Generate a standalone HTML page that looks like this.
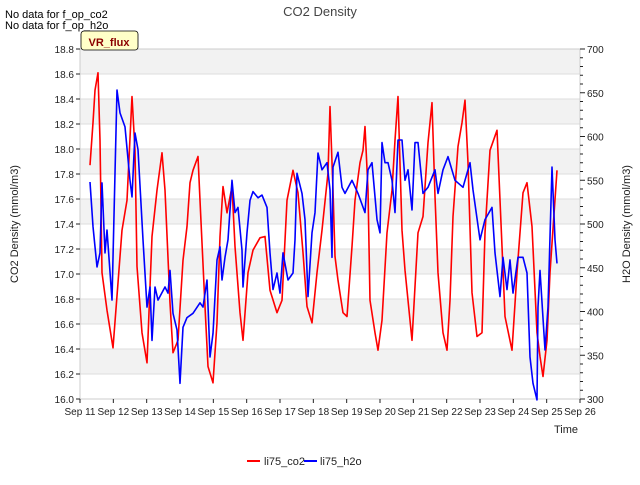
<!DOCTYPE html>
<html><head><meta charset="utf-8"><style>
body{margin:0;background:#fff;font-family:"Liberation Sans",sans-serif}
svg text{font-family:"Liberation Sans",sans-serif}
</style></head><body>
<svg id="c" width="640" height="480" xmlns="http://www.w3.org/2000/svg">
<text x="320" y="16" text-anchor="middle" font-size="13" fill="#444">CO2 Density</text>
<text x="5" y="18" font-size="11" fill="#000">No data for f_op_co2</text>
<text x="5" y="29" font-size="11" fill="#000">No data for f_op_h2o</text>
<g id="bands"></g>
<g id="grid"></g>
<rect x="80" y="49" width="500" height="350" fill="none" stroke="#ccc"/>
<g id="axes"></g>
<g id="series"></g>
<rect x="81" y="31" width="57" height="19" rx="3" fill="#ffffc8" stroke="#000" stroke-width="0.8"/>
<text x="109" y="46" text-anchor="middle" font-size="11" font-weight="bold" fill="#8b0000">VR_flux</text>
<text transform="translate(18,224) rotate(-90)" text-anchor="middle" font-size="11" fill="#222">CO2 Density (mmol/m3)</text>
<text transform="translate(630,224) rotate(-90)" text-anchor="middle" font-size="11" fill="#222">H2O Density (mmol/m3)</text>
<text x="578" y="433" text-anchor="end" font-size="11" fill="#222">Time</text>
<g>
<line x1="247" y1="461" x2="260" y2="461" stroke="#f00" stroke-width="2"/>
<text x="264" y="465" font-size="11" fill="#222">li75_co2</text>
<line x1="304" y1="461" x2="317" y2="461" stroke="#00f" stroke-width="2"/>
<text x="320" y="465" font-size="11" fill="#222">li75_h2o</text>
</g>
</svg>
<script>
const xTickLabels=["Sep 11","Sep 12","Sep 13","Sep 14","Sep 15","Sep 16","Sep 17","Sep 18","Sep 19","Sep 20","Sep 21","Sep 22","Sep 23","Sep 24","Sep 25","Sep 26"];
const leftTicks=[16.0,16.2,16.4,16.6,16.8,17.0,17.2,17.4,17.6,17.8,18.0,18.2,18.4,18.6,18.8];
const rightTicks=[300,350,400,450,500,550,600,650,700];
const co2Days=[0.30,0.39,0.45,0.54,0.60,0.66,0.81,0.99,1.14,1.26,1.41,1.56,1.65,1.71,1.86,2.01,2.16,2.31,2.46,2.55,2.70,2.79,2.94,3.09,3.21,3.30,3.39,3.54,3.60,3.75,3.84,3.99,4.11,4.20,4.29,4.41,4.56,4.65,4.80,4.89,5.04,5.19,5.40,5.55,5.70,5.91,6.06,6.21,6.39,6.54,6.69,6.81,6.96,7.11,7.26,7.44,7.50,7.59,7.65,7.74,7.89,8.01,8.16,8.25,8.40,8.49,8.55,8.64,8.70,8.85,8.94,9.06,9.21,9.36,9.45,9.54,9.66,9.75,9.96,10.14,10.29,10.44,10.56,10.65,10.74,10.89,11.01,11.10,11.19,11.34,11.46,11.55,11.64,11.76,11.91,12.06,12.15,12.30,12.51,12.66,12.75,12.96,13.11,13.29,13.41,13.56,13.71,13.80,13.89,14.01,14.10,14.31];
const co2Values=[17.87,18.21,18.47,18.61,18.07,17.01,16.71,16.41,16.93,17.35,17.59,18.42,17.99,17.06,16.53,16.29,17.30,17.67,17.97,17.67,16.77,16.37,16.47,17.11,17.38,17.73,17.83,17.94,17.59,16.74,16.26,16.13,16.61,17.30,17.70,17.49,17.70,17.22,16.69,16.47,17.01,17.19,17.29,17.30,16.87,16.69,16.79,17.59,17.83,17.65,17.17,16.74,16.61,17.01,17.35,17.81,18.34,17.67,17.14,16.95,16.69,16.66,17.22,17.59,17.89,17.99,18.18,17.67,16.79,16.53,16.39,16.63,17.33,17.67,18.07,18.42,17.35,17.03,16.47,17.33,17.46,18.05,18.37,17.62,17.01,16.53,16.39,16.79,17.46,18.02,18.21,18.39,17.89,16.85,16.50,16.53,17.33,17.99,18.15,17.22,16.66,16.39,17.01,17.65,17.73,17.38,16.53,16.34,16.18,16.47,17.01,17.83];
const h2oDays=[0.30,0.39,0.51,0.60,0.66,0.75,0.81,0.96,1.05,1.11,1.20,1.35,1.50,1.56,1.65,1.74,1.89,2.01,2.10,2.16,2.25,2.34,2.55,2.64,2.70,2.79,2.91,3.00,3.09,3.21,3.39,3.60,3.69,3.81,3.90,3.99,4.11,4.20,4.26,4.35,4.44,4.56,4.65,4.74,4.86,4.89,5.01,5.10,5.19,5.34,5.46,5.61,5.70,5.79,5.91,6.00,6.09,6.24,6.39,6.45,6.51,6.66,6.75,6.84,6.96,7.05,7.14,7.26,7.41,7.50,7.56,7.59,7.74,7.86,7.95,8.16,8.34,8.55,8.64,8.76,8.91,9.00,9.06,9.15,9.24,9.36,9.45,9.54,9.66,9.75,9.84,9.96,10.05,10.14,10.29,10.44,10.65,10.74,10.89,11.04,11.25,11.49,11.70,11.79,12.00,12.15,12.36,12.45,12.60,12.69,12.81,12.90,12.99,13.14,13.29,13.41,13.50,13.59,13.71,13.74,13.80,13.95,14.04,14.16,14.25,14.31];
const h2oValues=[548,497,451,467,547,467,493,413,558,653,627,611,550,531,604,585,482,405,428,367,428,413,428,421,447,398,379,318,382,393,398,410,405,436,348,375,459,474,436,462,482,550,513,519,470,428,490,527,537,530,533,519,467,425,444,421,467,436,444,482,558,535,505,417,490,513,581,562,570,539,462,565,582,542,535,550,535,513,562,570,505,490,593,570,570,550,513,596,596,550,562,516,593,593,535,542,562,535,562,577,550,542,570,539,482,505,519,467,417,462,425,459,421,462,462,444,348,318,299,405,447,356,405,565,482,455];

const NS="http://www.w3.org/2000/svg";
const X0=80,X1=580,Y0=399,Y1=49;
const xs=d=>X0+(d/15)*(X1-X0);
const yL=v=>Y0-(v-16)/2.8*(Y0-Y1);
const yR=v=>Y0-(v-300)/400*(Y0-Y1);
function mk(tag,attrs,parent){const e=document.createElementNS(NS,tag);for(const k in attrs)e.setAttribute(k,attrs[k]);parent.appendChild(e);return e;}
const bands=document.getElementById('bands'),grid=document.getElementById('grid'),axes=document.getElementById('axes'),series=document.getElementById('series');
for(let i=0;i<leftTicks.length-1;i++){
  if(i%2===0){const b=mk('rect',{x:X0,y:yL(leftTicks[leftTicks.length-1-i]),width:X1-X0,height:yL(leftTicks[leftTicks.length-2-i])-yL(leftTicks[leftTicks.length-1-i]),fill:'#f2f2f2'},bands);
  
  }
}
leftTicks.forEach(v=>{
  const y=yL(v);
  const g=mk('line',{x1:X0,x2:X1,y1:y,y2:y,stroke:'#ddd'},grid);
  
  
  const t=mk('line',{x1:X0-4,x2:X0,y1:y,y2:y,stroke:'#222'},axes);
  
  
  const l=mk('text',{x:X0-6,y:y+4,'text-anchor':'end','font-size':'10',fill:'#222'},axes);
  l.textContent=v.toFixed(1);
  
  
});
for(let v=300;v<=700;v+=10){
  const y=yR(v),major=v%50===0;
  const t=mk('line',{x1:X1,x2:X1+(major?5:3),y1:y,y2:y,stroke:'#222'},axes);
  
  
}
rightTicks.forEach(v=>{
  const l=mk('text',{x:X1+7,y:yR(v)+4,'font-size':'10',fill:'#222'},axes);
  l.textContent=v;
  
  
});
xTickLabels.forEach((s,i)=>{
  const x=xs(i);
  const t=mk('line',{x1:x,x2:x,y1:Y0,y2:Y0+4,stroke:'#222'},axes);
  
  
  const l=mk('text',{x:x,y:Y0+16,'text-anchor':'middle','font-size':'10',fill:'#222'},axes);
  l.textContent=s;
  
  
});
const pc=co2Days.map((d,i)=>xs(d).toFixed(1)+','+yL(co2Values[i]).toFixed(1)).join(' ');
const lc=mk('polyline',{points:pc,fill:'none',stroke:'#f00','stroke-width':'1.6','stroke-linejoin':'round'},series);


const ph=h2oDays.map((d,i)=>xs(d).toFixed(1)+','+yR(h2oValues[i]).toFixed(1)).join(' ');
const lh=mk('polyline',{points:ph,fill:'none',stroke:'#00f','stroke-width':'1.6','stroke-linejoin':'round'},series);


</script>
</body></html>
